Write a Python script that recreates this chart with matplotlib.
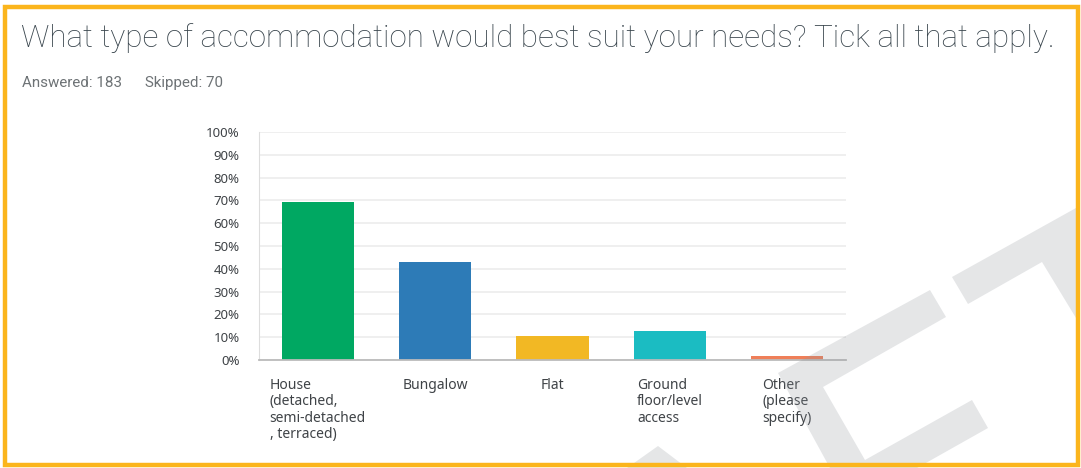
import matplotlib
matplotlib.use("Agg")
import matplotlib.pyplot as plt
from matplotlib.patches import Polygon, Rectangle
from matplotlib.ticker import PercentFormatter

# survey answers (percent of respondents)
categories = [
    "House\n(detached,\nsemi-detached\n, terraced)",
    "Bungalow",
    "Flat",
    "Ground\nfloor/level\naccess",
    "Other\n(please\nspecify)",
]
values = [69.4, 43.2, 10.4, 12.6, 1.6]
bar_colors = ["#00a862", "#2d7bb7", "#f2b824", "#1bbcc2", "#ef7f59"]
yticks = [0, 10, 20, 30, 40, 50, 60, 70, 80, 90, 100]

title = "What type of accommodation would best suit your needs? Tick all that apply."
answered = "Answered: 183"
skipped = "Skipped: 70"

W, H = 1081, 468
fig = plt.figure(figsize=(W / 100, H / 100), dpi=100)
fig.patch.set_facecolor("white")

ax = fig.add_axes([259 / W, 1 - 360 / H, (846 - 259) / W, (360 - 132) / H])
x = list(range(len(categories)))
ax.bar(x, values, width=0.615, color=bar_colors, zorder=2)
ax.set_xlim(-0.5, len(categories) - 0.5)
ax.set_ylim(0, 100)
ax.set_yticks(yticks)
ax.yaxis.set_major_formatter(PercentFormatter(decimals=0))
ax.grid(axis="y", color="#eeeeee", linewidth=1.3, zorder=0)
ax.set_xticks(x)
ax.set_xticklabels(categories, family="Noto Sans", fontsize=10, color="#3f4347",
                   linespacing=1.13, va="top")
for t in ax.get_xticklabels():
    t.set_multialignment("left")
for t in ax.get_yticklabels():
    t.set_family("Noto Sans")
    t.set_fontsize(9.5)
    t.set_color("#3f4347")
ax.tick_params(axis="both", length=0)
ax.tick_params(axis="y", pad=14)
ax.tick_params(axis="x", pad=13)
for side in ["top", "right"]:
    ax.spines[side].set_visible(False)
ax.spines["left"].set_color("#dddddd")
ax.spines["bottom"].set_color("#bbbbbb")
ax.spines["bottom"].set_linewidth(1.3)

# header text
fig.text(21 / W, 1 - 38 / H, title, family="Roboto", fontweight="light",
         fontsize=22.6, color="#38444c", va="center", ha="left")
fig.text(22 / W, 1 - 83 / H, answered, family="Roboto", fontsize=10.9,
         color="#6d7275", va="center", ha="left")
fig.text(145 / W, 1 - 83 / H, skipped, family="Roboto", fontsize=10.9,
         color="#6d7275", va="center", ha="left")


def px(pts):
    return [(a / W, 1 - b / H) for a, b in pts]


# faint watermark shapes
shapes = [
    [(778, 373), (930, 290), (946, 317), (823, 387), (865, 460),
     (972, 400), (988, 428), (917, 468), (830, 468)],
    [(952, 277), (1076, 208), (1076, 318), (1042, 262), (968, 304)],
    [(627, 468), (658, 446), (687, 468)],
]
for s in shapes:
    fig.add_artist(Polygon(px(s), closed=True, transform=fig.transFigure,
                           facecolor="#8f949a", alpha=0.23, edgecolor="none",
                           zorder=5))

# orange frame
fig.add_artist(Rectangle((5 / W, 1 - 465 / H), (1078 - 5) / W, (465 - 7) / H,
                         transform=fig.transFigure, fill=False,
                         edgecolor="#fbb51c", linewidth=3.2, zorder=6))

fig.savefig("out.png", dpi=100)
